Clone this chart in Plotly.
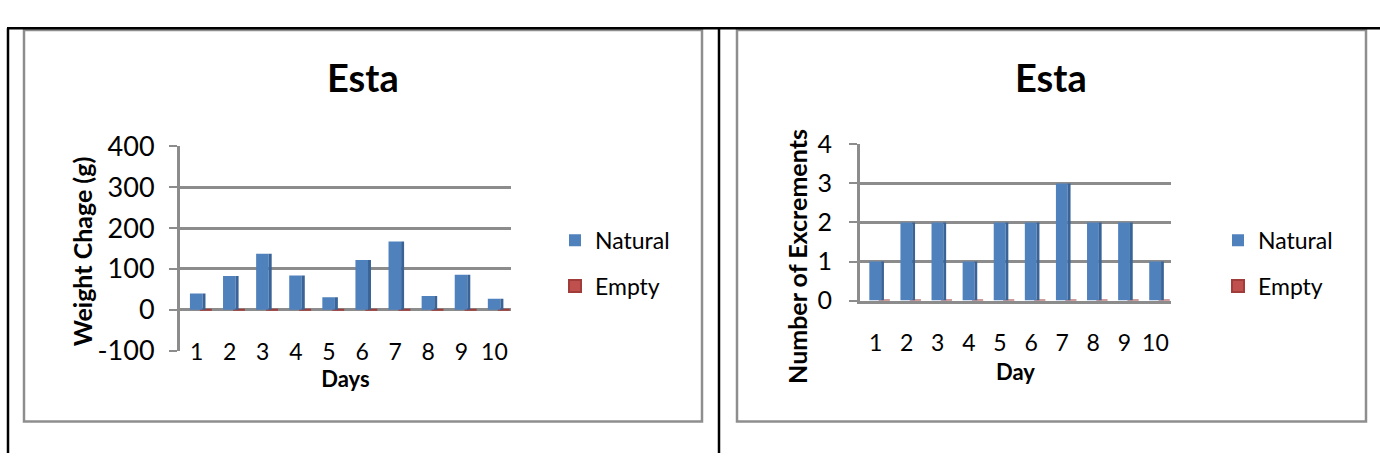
import plotly.graph_objects as go

W, H = 1380, 468

# ---- data ----
days = ["1", "2", "3", "4", "5", "6", "7", "8", "9", "10"]
weight_natural = [40, 83, 137, 84, 31, 122, 167, 34, 86, 27]
weight_empty = [0, 0, 0, 0, 0, 0, 0, 0, 0, 0]
excrement_natural = [1, 2, 2, 1, 2, 2, 3, 2, 2, 1]
excrement_empty = [0, 0, 0, 0, 0, 0, 0, 0, 0, 0]
weight_ticks = [-100, 0, 100, 200, 300, 400]
excrement_ticks = [0, 1, 2, 3, 4]

BLUE = "#4F81BD"
BLUE_SIDE = "#3A6497"
RED = "#C0504D"
GRID = "#8C8C8C"
FONT = "Lato"


def px(x):
    return x / W


def py(y):
    return 1 - y / H


fig = go.Figure()


def add_panel(xa, ya, natural, empty, legend):
    fig.add_trace(go.Bar(
        x=days, y=empty, name="Empty", xaxis=xa, yaxis=ya, legend=legend,
        marker=dict(color=RED, line=dict(color="#A03C39", width=2)),
        offset=0.1, width=0.36, legendrank=2, hoverinfo="skip"))
    fig.add_trace(go.Bar(
        x=days, y=natural, name="Natural", xaxis=xa, yaxis=ya, legend=legend,
        marker=dict(color=BLUE, line=dict(width=0)),
        offset=-0.2, width=0.38, legendrank=1))
    # darker right-hand face of each column
    fig.add_trace(go.Bar(
        x=days, y=natural, xaxis=xa, yaxis=ya, showlegend=False,
        marker=dict(color=BLUE_SIDE, line=dict(width=0)),
        offset=0.18, width=0.09, hoverinfo="skip"))


add_panel("x", "y", weight_natural, weight_empty, "legend")
add_panel("x2", "y2", excrement_natural, excrement_empty, "legend2")

yaxis_common = dict(showline=True, linecolor=GRID, linewidth=3,
                    showgrid=True, gridcolor=GRID, gridwidth=3,
                    ticks="outside", ticklen=8, tickwidth=2, tickcolor=GRID,
                    fixedrange=True)

fig.update_layout(
    width=W, height=H,
    margin=dict(l=0, r=0, t=0, b=0),
    paper_bgcolor="white", plot_bgcolor="rgba(0,0,0,0)",
    barmode="overlay",
    font=dict(family=FONT, color="black"),
    showlegend=True,
    # day labels sit on the -100 floor line
    xaxis=dict(
        type="category", domain=[px(180), px(511)], anchor="free",
        position=py(342), range=[-0.5, 9.5], showline=False, showgrid=False,
        zeroline=False, ticks="", tickfont=dict(size=23), ticklabelstandoff=0,
        fixedrange=True,
        title=dict(text="<b>Days</b>", font=dict(size=22), standoff=4)),
    yaxis=dict(
        **yaxis_common, domain=[py(358), py(138)], anchor="x",
        range=[-100, 400], tickvals=weight_ticks,
        ticktext=[str(v) for v in weight_ticks],
        zeroline=True, zerolinecolor=GRID, zerolinewidth=3,
        tickfont=dict(size=27), ticklabelstandoff=9),
    xaxis2=dict(
        type="category", domain=[px(860), px(1171)], anchor="y2",
        range=[-0.5, 9.5], showline=True, linecolor=GRID, linewidth=3,
        showgrid=False, zeroline=False, fixedrange=True,
        ticks="", tickfont=dict(size=23), ticklabelstandoff=20,
        title=dict(text="<b>Day</b>", font=dict(size=22), standoff=10)),
    yaxis2=dict(
        **yaxis_common, domain=[py(304), py(136)], anchor="x2",
        range=[0, 4], tickvals=excrement_ticks,
        tickfont=dict(size=25), ticklabelstandoff=12),
    legend=dict(x=px(555), y=py(216), xanchor="left", yanchor="top",
                font=dict(size=23), tracegroupgap=13, bgcolor="rgba(0,0,0,0)",
                traceorder="grouped"),
    legend2=dict(x=px(1218), y=py(216), xanchor="left", yanchor="top",
                 font=dict(size=23), tracegroupgap=13, bgcolor="rgba(0,0,0,0)",
                 traceorder="grouped"),
)

# separate legend groups so the two entries are spaced apart
for tr in fig.data:
    if tr.name:
        tr.legendgroup = tr.name + (tr.legend or "legend")

# chart titles
for cx in (363, 1051):
    fig.add_annotation(x=px(cx), y=py(63), xref="paper", yref="paper",
                       text="<b>Esta</b>", showarrow=False,
                       font=dict(size=38, family=FONT), xanchor="center", yanchor="middle")

# vertical axis titles
for cx, cy, label in ((82, 251, "Weight Chage (g)"), (797, 257, "Number of Excrements")):
    fig.add_annotation(x=px(cx), y=py(cy), xref="paper", yref="paper",
                       text=f"<b>{label}</b>", textangle=-90, showarrow=False,
                       font=dict(size=25, family=FONT), xanchor="center", yanchor="middle")

# chart frames
for x0, x1 in ((24, 702), (737, 1366)):
    fig.add_shape(type="rect", xref="paper", yref="paper",
                  x0=px(x0), x1=px(x1), y0=py(434), y1=py(13),
                  line=dict(color="#8E8E8E", width=2.5), fillcolor="rgba(0,0,0,0)",
                  layer="below")

# table rules around the two charts
fig.add_shape(type="line", xref="paper", yref="paper",
              x0=px(7), x1=1, y0=py(11), y1=py(11), line=dict(color="black", width=2.5))
for lx in (8, 719):
    fig.add_shape(type="line", xref="paper", yref="paper",
                  x0=px(lx), x1=px(lx), y0=0, y1=py(11), line=dict(color="black", width=2.5))

fig.write_html(
    "out.html",
    post_script="document.body.style.margin='0';document.body.style.overflow='hidden';",
)
